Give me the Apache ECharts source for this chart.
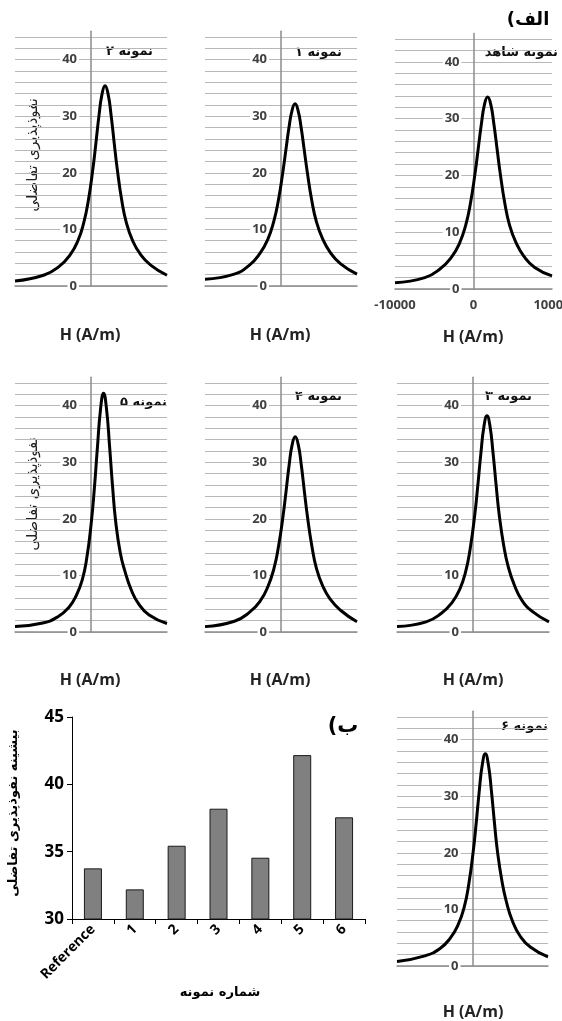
<!DOCTYPE html>
<html>
<head>
<meta charset="utf-8">
<script src="https://cdn.jsdelivr.net/npm/echarts@6/dist/echarts.min.js"></script>
<style>
  html, body { margin: 0; padding: 0; background: #fff; }
  #chart { width: 562px; height: 1021px; }
</style>
</head>
<body>
<div id="chart"></div>
<script>
  // H (A/m) و نفوذپذیری تفاضلی برای هر نمونه
  const hShahed = [-10000, -6200, -4200, -2800, -1800, -1000, -400, 200, 600, 1000, 1400, 1800, 2200, 2600, 3000, 3400, 4000, 4600, 5400, 6400, 7800, 10000];
  const chiShahed = [1.1, 2.0, 3.6, 5.6, 8.0, 11.2, 15.0, 20.4, 24.7, 29.0, 32.5, 33.8, 32.5, 29.0, 24.7, 20.4, 15.0, 11.2, 8.2, 5.8, 3.8, 2.3];

  const h1 = [-10000, -6150, -4150, -2750, -1750, -950, -350, 250, 650, 1050, 1450, 1850, 2250, 2650, 3050, 3450, 4050, 4650, 5450, 6450, 7850, 10000];
  const chi1 = [1.2, 2.1, 3.7, 5.8, 8.2, 11.4, 15.1, 20.2, 24.1, 28.0, 31.0, 32.2, 31.0, 28.0, 24.1, 20.2, 15.1, 11.4, 8.4, 6.0, 3.9, 2.1];

  const h2 = [-10000, -6150, -4150, -2750, -1750, -950, -350, 250, 650, 1050, 1450, 1850, 2250, 2650, 3050, 3450, 4050, 4650, 5450, 6450, 7850, 10000];
  const chi2 = [0.9, 1.95, 3.5, 5.5, 7.9, 11.2, 15.1, 20.7, 25.3, 30.1, 33.9, 35.4, 33.9, 30.1, 25.3, 20.7, 15.1, 11.2, 8.1, 5.7, 3.7, 1.9];

  const h3 = [-10000, -6160, -4160, -2760, -1760, -960, -360, 240, 640, 1040, 1440, 1840, 2240, 2640, 3040, 3440, 4040, 4640, 5440, 6440, 7840, 10000];
  const chi3 = [0.95, 1.8, 3.3, 5.2, 7.5, 10.7, 14.8, 20.8, 26.0, 31.6, 36.3, 38.2, 36.3, 31.6, 26.0, 20.8, 15.3, 11.5, 8.3, 5.6, 3.6, 1.8];

  const h4 = [-10000, -6130, -4130, -2730, -1730, -930, -330, 270, 670, 1070, 1470, 1870, 2270, 2670, 3070, 3470, 4070, 4670, 5470, 6470, 7870, 10000];
  const chi4 = [0.95, 1.9, 3.5, 5.5, 8.0, 11.2, 15.1, 20.5, 24.9, 29.5, 33.1, 34.5, 33.1, 29.5, 24.9, 20.5, 15.1, 11.2, 8.2, 5.8, 3.8, 1.8];

  const h5 = [-10000, -6350, -4350, -2950, -1950, -1150, -550, 50, 450, 850, 1250, 1650, 2050, 2450, 2850, 3250, 3850, 4450, 5250, 6250, 7650, 10000];
  const chi5 = [0.95, 1.6, 2.7, 4.3, 6.4, 9.2, 13.1, 19.5, 25.5, 32.7, 39.3, 42.2, 39.3, 32.7, 25.5, 19.5, 14.0, 10.8, 7.6, 5.0, 3.0, 1.5];

  const h6 = [-10000, -6300, -4300, -2900, -1900, -1100, -500, 100, 500, 900, 1300, 1700, 2100, 2500, 2900, 3300, 3900, 4500, 5300, 6300, 7700, 10000];
  const chi6 = [0.8, 1.8, 3.1, 5.0, 7.3, 10.4, 14.4, 20.3, 25.4, 31.0, 35.6, 37.5, 35.6, 31.0, 25.4, 20.3, 15.0, 11.3, 7.9, 5.3, 3.3, 1.6];

  // نمودار ستونی (ب)
  const sampleNames = ['Reference', '1', '2', '3', '4', '5', '6'];
  const peakChi = [33.76, 32.2, 35.44, 38.19, 34.55, 42.17, 37.55];

  const FONT = '"Open Sans", "DejaVu Sans", sans-serif';
  const AR = '"DejaVu Sans", sans-serif';

  // panel boxes: left, top(=45), width, height(0..45)
  const panels = [
    { h: h2, chi: chi2, title: 'نمونه ۲', left: 15, top: 31.3, width: 152, height: 254.7, tx: 153, ty: 52, yName: true },
    { h: h1, chi: chi1, title: 'نمونه ۱', left: 205, top: 31.3, width: 152, height: 254.7, tx: 342, ty: 53 },
    { h: hShahed, chi: chiShahed, title: 'نمونه شاهد', left: 395, top: 33.4, width: 157, height: 255.6, tx: 558, ty: 53, xLabels: true },
    { h: h5, chi: chi5, title: 'نمونه ۵', left: 15, top: 377.3, width: 152, height: 254.7, tx: 167, ty: 403, yName: true },
    { h: h4, chi: chi4, title: 'نمونه ۴', left: 205, top: 377.3, width: 152, height: 254.7, tx: 342, ty: 397 },
    { h: h3, chi: chi3, title: 'نمونه ۳', left: 397, top: 377.3, width: 152, height: 254.7, tx: 532, ty: 397 },
    { h: h6, chi: chi6, title: 'نمونه ۶', left: 397, top: 711.3, width: 151, height: 254.7, tx: 548, ty: 727 }
  ];
  const hTitles = [[90, 335], [280, 335], [473, 337], [90, 680], [280, 680], [473, 680], [473, 1012]];

  const grid = [], xAxis = [], yAxis = [], series = [], graphic = [];

  panels.forEach(function (p, i) {
    grid.push({ left: p.left, top: p.top, width: p.width, height: p.height, outerBoundsMode: 'none' });
    xAxis.push({
      type: 'value', gridIndex: i, min: -10000, max: 10000, interval: 10000,
      axisLine: { onZero: true, lineStyle: { color: '#8c8c8c', width: 1.5 } },
      axisTick: { show: false },
      splitLine: { show: false },
      axisLabel: {
        show: !!p.xLabels, margin: 10, fontSize: 13, fontWeight: 'bold', color: '#404040',
        fontFamily: FONT, showMinLabel: true, showMaxLabel: true,
        formatter: function (v) { return String(v); }
      }
    });
    yAxis.push({
      type: 'value', gridIndex: i, min: 0, max: 45, interval: 2,
      offset: -p.width / 2,
      axisLine: { show: true, onZero: false, lineStyle: { color: '#8c8c8c', width: 1.5 } },
      axisTick: { show: false },
      splitLine: { show: true, showMaxLine: false, lineStyle: { color: '#b8b8b8', width: 1 } },
      axisLabel: {
        margin: 12,
        formatter: function (v) { return v % 10 === 0 ? '{b|' + v + '}' : ''; },
        rich: { b: { backgroundColor: '#fff', padding: [0, 2], fontSize: 13, fontWeight: 'bold', color: '#404040', fontFamily: FONT } }
      }
    });
    series.push({
      type: 'line', xAxisIndex: i, yAxisIndex: i,
      data: p.h.map(function (x, k) { return [x, p.chi[k]]; }),
      smooth: 0.5, showSymbol: false, clip: false,
      lineStyle: { color: '#000', width: 3 }
    });
    graphic.push({
      type: 'text', x: p.tx, y: p.ty,
      style: { text: p.title, align: 'right', verticalAlign: 'middle', font: 'bold 13px ' + AR, fill: '#111' }
    });
    if (p.yName) {
      graphic.push({
        type: 'text', x: 33, y: i === 0 ? 155 : 494, rotation: Math.PI / 2,
        style: { text: 'نفوذپذیری تفاضلی', align: 'center', verticalAlign: 'middle', font: '15px ' + AR, fill: '#222' }
      });
    }
  });

  hTitles.forEach(function (t) {
    graphic.push({
      type: 'text', x: t[0], y: t[1],
      style: { text: 'H (A/m)', align: 'center', verticalAlign: 'middle', font: 'bold 16px ' + FONT, fill: '#222' }
    });
  });

  // canvas lays these out right-to-left, so the bracket goes first
  graphic.push({
    type: 'text', x: 528, y: 20,
    style: { text: '(الف', align: 'center', verticalAlign: 'middle', font: 'bold 18px ' + AR, fill: '#000' }
  });

  // bar chart
  const b = panels.length;
  grid.push({ left: 72, top: 717, width: 293, height: 202, outerBoundsMode: 'none' });
  xAxis.push({
    type: 'category', gridIndex: b, data: sampleNames,
    axisLine: { lineStyle: { color: '#000', width: 1 } },
    axisTick: { show: true, length: 5, lineStyle: { color: '#000' } },
    axisLabel: { rotate: 45, margin: 8, fontSize: 14, fontWeight: 'bold', color: '#000', fontFamily: FONT }
  });
  yAxis.push({
    type: 'value', gridIndex: b, min: 30, max: 45, interval: 5,
    axisLine: { show: true, lineStyle: { color: '#000', width: 1 } },
    axisTick: { show: true, length: 5, lineStyle: { color: '#000' } },
    splitLine: { show: false },
    axisLabel: { margin: 8, fontSize: 17, fontWeight: 'bold', color: '#000', fontFamily: FONT }
  });
  series.push({
    type: 'bar', xAxisIndex: b, yAxisIndex: b, data: peakChi, barWidth: 18,
    itemStyle: { color: '#808080', borderColor: '#1a1a1a', borderWidth: 1 }
  });
  graphic.push(
    { type: 'text', x: 14, y: 813, rotation: Math.PI / 2,
      style: { text: 'بیشینه نفوذپذیری تفاضلی', align: 'center', verticalAlign: 'middle', font: 'bold 13px ' + AR, fill: '#000' } },
    { type: 'text', x: 220, y: 993,
      style: { text: 'شماره نمونه', align: 'center', verticalAlign: 'middle', font: 'bold 13px ' + AR, fill: '#000' } },
    { type: 'text', x: 343, y: 727,
      style: { text: '(ب', align: 'center', verticalAlign: 'middle', font: 'bold 21px ' + AR, fill: '#000' } }
  );

  const chart = echarts.init(document.getElementById('chart'));
  chart.setOption({
    animation: false,
    backgroundColor: '#fff',
    grid: grid,
    xAxis: xAxis,
    yAxis: yAxis,
    series: series,
    graphic: graphic
  });
</script>
</body>
</html>
